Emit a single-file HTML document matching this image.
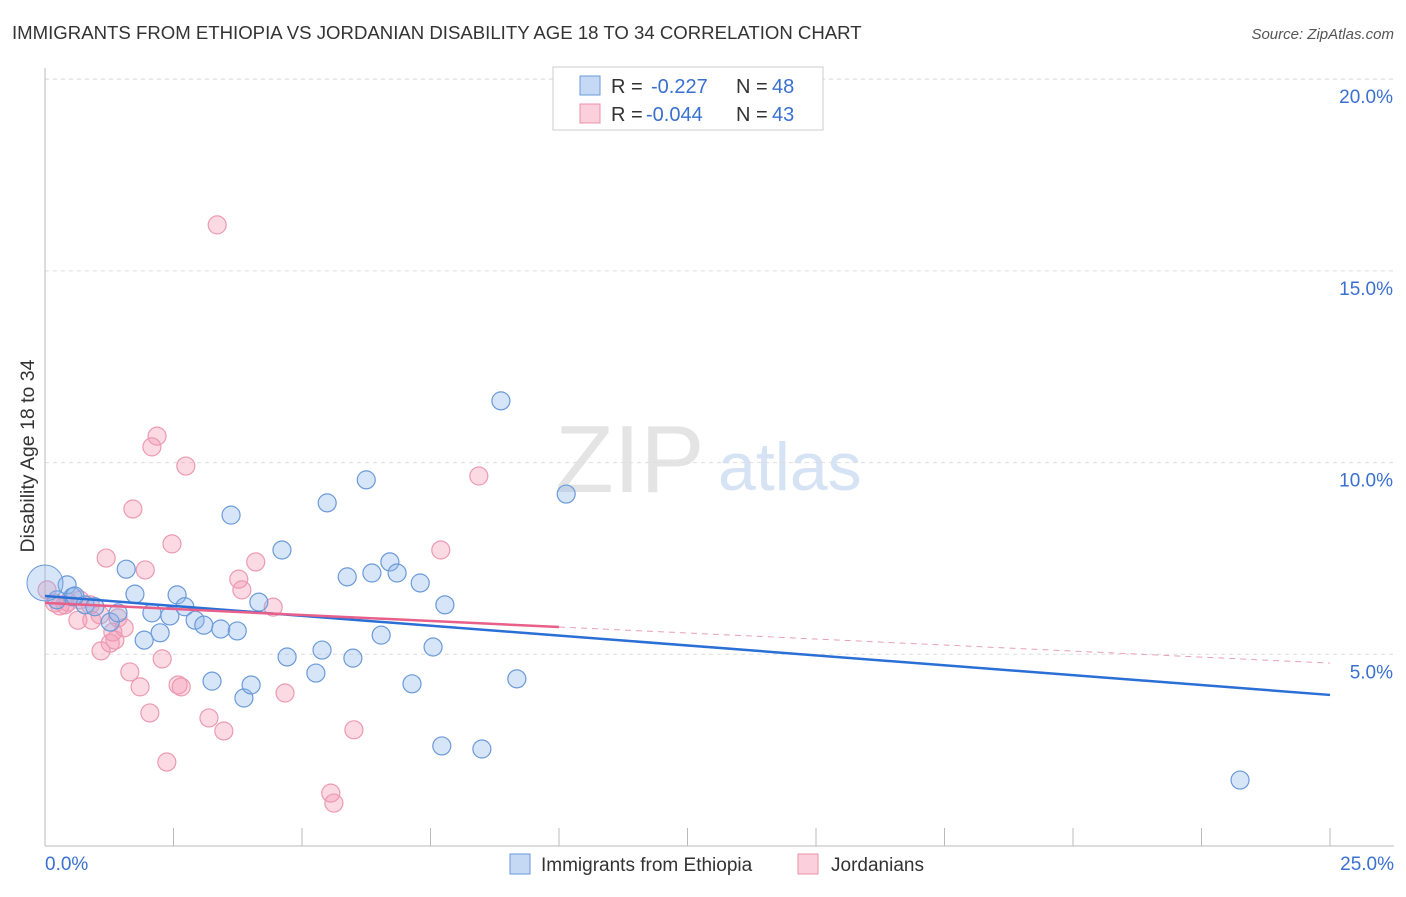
<!DOCTYPE html>
<html><head><meta charset="utf-8"><style>
body{margin:0;background:#fff;font-family:"Liberation Sans",sans-serif;}
svg text{font-family:"Liberation Sans",sans-serif;}
</style></head><body>
<svg id="c" width="1406" height="892">
<text x="12" y="39" font-size="18.6" fill="#333">IMMIGRANTS FROM ETHIOPIA VS JORDANIAN DISABILITY AGE 18 TO 34 CORRELATION CHART</text>
<text x="1394" y="39" font-size="15" fill="#555" font-style="italic" text-anchor="end">Source: ZipAtlas.com</text>
<text x="34" y="456" font-size="19.5" fill="#333" text-anchor="middle" transform="rotate(-90 34 456)">Disability Age 18 to 34</text>
<text x="555" y="492" font-size="96" fill="#e4e4e4" font-family="Liberation Serif">ZIP</text>
<text x="718" y="490" font-size="68" fill="#d6e3f5">atlas</text>
<g id="grid"></g><g id="pts"></g><g id="lines"></g>
<g>
<rect x="553" y="67" width="270" height="63" fill="#fff" stroke="#ccc"/>
<rect x="580" y="76" width="20" height="19" fill="#c5d9f5" stroke="#6a9ad9"/>
<rect x="580" y="104" width="20" height="19" fill="#fbd0dc" stroke="#e890aa"/>
<text x="611" y="93" font-size="20" fill="#333">R =</text>
<text x="651" y="93" font-size="20" fill="#3a70d0">-0.227</text>
<text x="736" y="93" font-size="20" fill="#333">N =</text>
<text x="772" y="93" font-size="20" fill="#3a70d0">48</text>
<text x="611" y="121" font-size="20" fill="#333">R =</text>
<text x="646" y="121" font-size="20" fill="#3a70d0">-0.044</text>
<text x="736" y="121" font-size="20" fill="#333">N =</text>
<text x="772" y="121" font-size="20" fill="#3a70d0">43</text>
</g>
<g>
<rect x="510" y="854" width="20" height="20" fill="#c5d9f5" stroke="#6a9ad9"/>
<text x="541" y="871" font-size="19" fill="#333">Immigrants from Ethiopia</text>
<rect x="798" y="854" width="20" height="20" fill="#fbd0dc" stroke="#e890aa"/>
<text x="831" y="871" font-size="19" fill="#333">Jordanians</text>
</g>
</svg>
<script>
const xTicks=[0,25];
const yTicks=[5,10,15,20];
const blueX=[0.43,0.54,0.78,0.97,1.27,1.42,1.58,1.75,1.93,2.08,2.24,2.43,2.57,2.72,2.92,3.09,3.25,3.42,3.62,3.74,3.87,4.01,4.16,4.61,4.71,5.27,5.39,5.49,5.88,5.99,6.25,6.36,6.54,6.71,6.85,7.14,7.30,7.55,7.72,7.78,8.50,8.87,9.18,10.14,23.25,0.23,0.58];
const blueY=[6.81,6.50,6.29,6.24,5.84,6.08,7.22,6.57,5.37,6.08,5.56,6.00,6.55,6.24,5.89,5.76,4.30,5.66,8.63,5.61,3.86,4.20,6.36,7.72,4.93,4.51,5.11,8.95,7.02,4.90,9.55,7.12,5.50,7.41,7.12,4.23,6.86,5.19,2.61,6.29,2.53,11.61,4.36,9.18,1.72,6.42,6.52];
const pinkX=[3.35,2.18,2.08,2.74,8.44,1.71,2.47,7.70,1.19,1.95,4.10,3.77,3.83,4.44,0.04,0.19,0.29,0.45,0.68,0.88,1.07,1.32,1.42,1.54,1.09,1.65,2.28,1.85,2.59,2.65,2.04,3.19,3.48,4.67,6.01,2.37,5.56,5.62,0.64,0.91,1.27,1.36,0.39];
const pinkY=[16.20,10.69,10.41,9.91,9.65,8.79,7.88,7.72,7.51,7.20,7.41,6.96,6.68,6.23,6.68,6.34,6.26,6.36,6.42,6.29,6.03,5.58,5.95,5.69,5.09,4.54,4.88,4.15,4.20,4.15,3.47,3.34,3.00,3.99,3.03,2.19,1.38,1.12,5.89,5.89,5.29,5.37,6.29];
const blueTrend=[6.52,3.94];
const pinkTrend=[6.34,4.77];
const pinkSolidEnd=10;
const X=v=>45+v/25*1285, Y=v=>846-v*38.34;
const NS='http://www.w3.org/2000/svg';
function mk(t,a,p){const e=document.createElementNS(NS,t);for(const k in a)e.setAttribute(k,a[k]);p.appendChild(e);return e;}
const grid=document.getElementById('grid');
yTicks.forEach(v=>{
 const l=mk('line',{x1:45,x2:1394,y1:Y(v),y2:Y(v),stroke:'#ddd','stroke-dasharray':'4,4'},grid);
 
 
 const t=mk('text',{x:1393,y:Y(v)+24,'font-size':19,fill:'#3a70d0','text-anchor':'end'},grid);t.textContent=v.toFixed(1)+'%';
 
 
});
mk('line',{x1:45,x2:1394,y1:79,y2:79,stroke:'#ddd','stroke-dasharray':'4,4'},grid);
mk('line',{x1:45,x2:45,y1:68,y2:846,stroke:'#bbb'},grid);
mk('line',{x1:45,x2:1394,y1:846,y2:846,stroke:'#bbb'},grid);
for(let i=1;i<=10;i++){const tk=mk('line',{x1:X(i*2.5),x2:X(i*2.5),y1:828,y2:846,stroke:'#bbb'},grid);
 
 }
xTicks.forEach((v,i)=>{const t=mk('text',{x:i?1394:45,y:870,'font-size':19,fill:'#3a70d0','text-anchor':i?'end':'start'},grid);t.textContent=v.toFixed(1)+'%';
 
 });
const pts=document.getElementById('pts');
pinkX.forEach((x,i)=>{const c=mk('circle',{cx:X(x),cy:Y(pinkY[i]),r:9,fill:'rgba(244,150,178,0.35)',stroke:'#ec9ab3','stroke-width':1.2},pts);
 
 });
blueX.forEach((x,i)=>{const c=mk('circle',{cx:X(x),cy:Y(blueY[i]),r:9,fill:'rgba(140,180,235,0.35)',stroke:'#6a9ad9','stroke-width':1.2},pts);
 
 });
const big=mk('circle',{cx:X(0),cy:Y(6.86),r:18,fill:'rgba(140,180,235,0.35)',stroke:'#6a9ad9'},pts);


const L=document.getElementById('lines');
const py=(tr,x)=>tr[0]+(tr[1]-tr[0])*x/25;
const bl=mk('line',{x1:X(0),y1:Y(blueTrend[0]),x2:X(25),y2:Y(blueTrend[1]),stroke:'#2a6fd6','stroke-width':2.5},L);


const pl=mk('line',{x1:X(0),y1:Y(pinkTrend[0]),x2:X(pinkSolidEnd),y2:Y(py(pinkTrend,pinkSolidEnd)),stroke:'#e8608a','stroke-width':2.5},L);


const pd=mk('line',{x1:X(pinkSolidEnd),y1:Y(py(pinkTrend,pinkSolidEnd)),x2:X(25),y2:Y(pinkTrend[1]),stroke:'#e8a0b8','stroke-width':1,'stroke-dasharray':'6,5'},L);


</script>
</body></html>
